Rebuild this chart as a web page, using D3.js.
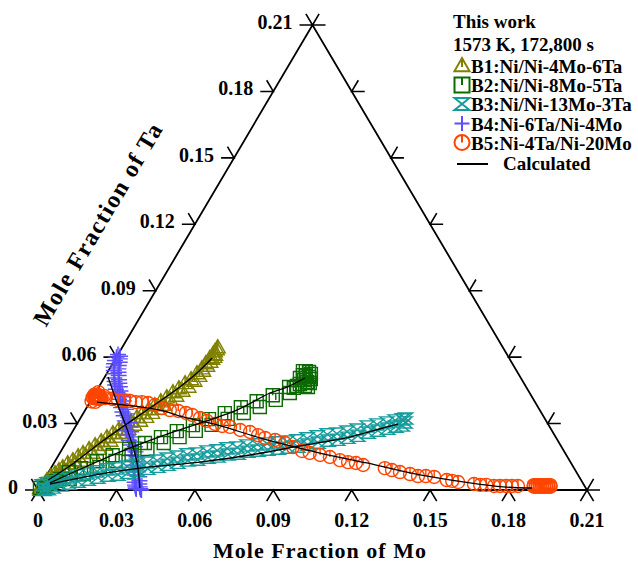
<!DOCTYPE html>
<html>
<head>
<meta charset="utf-8">
<script src="https://cdn.jsdelivr.net/npm/d3@7"></script>
<style>
body { margin: 0; background: #fff; }
text { font-family: "Liberation Serif", "Times New Roman", serif; font-weight: bold; fill: #000; }
</style>
</head>
<body>
<svg id="chart" width="638" height="562"></svg>
<script>
// tick values on each side of the triangle
const tickVals = [0, 0.03, 0.06, 0.09, 0.12, 0.15, 0.18, 0.21];
const tickLabels = ["0", "0.03", "0.06", "0.09", "0.12", "0.15", "0.18", "0.21"];

// B1 Ni/Ni-4Mo-6Ta  (mole fraction Mo, Ta)
const b1Mo = [0.0003, 0.0008, 0.0012, 0.0019, 0.0018, 0.0025, 0.0027, 0.0034, 0.0035, 0.0042, 0.0043, 0.0050, 0.0053, 0.0060, 0.0066, 0.0073, 0.0077, 0.0084, 0.0089, 0.0096, 0.0103, 0.0110, 0.0117, 0.0124, 0.0131, 0.0138, 0.0144, 0.0151, 0.0158, 0.0165, 0.0172, 0.0179, 0.0186, 0.0193, 0.0200, 0.0207, 0.0214, 0.0221, 0.0227, 0.0234, 0.0241, 0.0248, 0.0255, 0.0262, 0.0269, 0.0276, 0.0283, 0.0290, 0.0295, 0.0302, 0.0309, 0.0316, 0.0321, 0.0328, 0.0335, 0.0342, 0.0344, 0.0351, 0.0352, 0.0359, 0.0355, 0.0362, 0.0359, 0.0366, 0.0362, 0.0369, 0.0363, 0.0370, 0.0366, 0.0373, 0.0365, 0.0372];
const b1Ta = [0.0009, 0.0002, 0.0045, 0.0011, 0.0063, 0.0029, 0.0076, 0.0042, 0.0090, 0.0056, 0.0103, 0.0069, 0.0121, 0.0087, 0.0135, 0.0101, 0.0153, 0.0119, 0.0167, 0.0133, 0.0185, 0.0151, 0.0203, 0.0169, 0.0221, 0.0187, 0.0239, 0.0205, 0.0257, 0.0223, 0.0275, 0.0241, 0.0293, 0.0259, 0.0311, 0.0277, 0.0329, 0.0295, 0.0347, 0.0313, 0.0365, 0.0331, 0.0383, 0.0349, 0.0401, 0.0367, 0.0419, 0.0385, 0.0442, 0.0408, 0.0460, 0.0426, 0.0483, 0.0449, 0.0501, 0.0467, 0.0528, 0.0494, 0.0550, 0.0516, 0.0573, 0.0539, 0.0596, 0.0562, 0.0614, 0.0580, 0.0627, 0.0593, 0.0636, 0.0602, 0.0645, 0.0611];

// B2 Ni/Ni-8Mo-5Ta
const b2Mo = [0.0003, 0.0014, 0.0024, 0.0036, 0.0049, 0.0059, 0.0078, 0.0096, 0.0115, 0.0139, 0.0160, 0.0184, 0.0207, 0.0231, 0.0256, 0.0279, 0.0303, 0.0326, 0.0351, 0.0375, 0.0398, 0.0422, 0.0446, 0.0470, 0.0494, 0.0517, 0.0541, 0.0565, 0.0589, 0.0613, 0.0636, 0.0661, 0.0684, 0.0706, 0.0728, 0.0744, 0.0745, 0.0756, 0.0770, 0.0782, 0.0754, 0.0767, 0.0782, 0.0793, 0.0768, 0.0785, 0.0798, 0.0786, 0.0800, 0.0749, 0.0762, 0.0756, 0.0748];
const b2Ta = [0.0009, 0.0018, 0.0027, 0.0036, 0.0041, 0.0050, 0.0081, 0.0050, 0.0099, 0.0072, 0.0130, 0.0104, 0.0157, 0.0131, 0.0185, 0.0158, 0.0212, 0.0185, 0.0239, 0.0212, 0.0266, 0.0239, 0.0293, 0.0267, 0.0320, 0.0294, 0.0347, 0.0321, 0.0374, 0.0348, 0.0401, 0.0375, 0.0428, 0.0407, 0.0465, 0.0438, 0.0537, 0.0537, 0.0533, 0.0524, 0.0519, 0.0515, 0.0510, 0.0501, 0.0497, 0.0488, 0.0483, 0.0470, 0.0465, 0.0506, 0.0479, 0.0470, 0.0461];

// B3 Ni/Ni-13Mo-3Ta
const b3Mo = [0.0006, 0.0023, 0.0020, 0.0037, 0.0035, 0.0052, 0.0061, 0.0078, 0.0087, 0.0104, 0.0117, 0.0134, 0.0151, 0.0168, 0.0184, 0.0201, 0.0218, 0.0235, 0.0254, 0.0271, 0.0288, 0.0305, 0.0321, 0.0338, 0.0355, 0.0372, 0.0389, 0.0406, 0.0423, 0.0440, 0.0456, 0.0473, 0.0490, 0.0507, 0.0525, 0.0542, 0.0560, 0.0577, 0.0596, 0.0613, 0.0629, 0.0646, 0.0666, 0.0683, 0.0699, 0.0716, 0.0735, 0.0752, 0.0771, 0.0788, 0.0808, 0.0825, 0.0843, 0.0860, 0.0879, 0.0896, 0.0913, 0.0930, 0.0947, 0.0964, 0.0981, 0.0998, 0.1016, 0.1033, 0.1050, 0.1067, 0.1084, 0.1101, 0.1116, 0.1133, 0.1149, 0.1166, 0.1182, 0.1199, 0.1209, 0.1226, 0.1234, 0.1248, 0.1245, 0.1252];
const b3Ta = [0.0021, 0.0000, 0.0030, 0.0004, 0.0039, 0.0011, 0.0048, 0.0020, 0.0057, 0.0029, 0.0066, 0.0038, 0.0075, 0.0047, 0.0084, 0.0056, 0.0093, 0.0065, 0.0097, 0.0069, 0.0106, 0.0078, 0.0115, 0.0087, 0.0124, 0.0096, 0.0133, 0.0105, 0.0142, 0.0114, 0.0151, 0.0123, 0.0161, 0.0133, 0.0165, 0.0137, 0.0174, 0.0146, 0.0179, 0.0151, 0.0188, 0.0160, 0.0192, 0.0164, 0.0201, 0.0173, 0.0206, 0.0178, 0.0210, 0.0182, 0.0215, 0.0187, 0.0219, 0.0191, 0.0224, 0.0196, 0.0233, 0.0205, 0.0242, 0.0214, 0.0251, 0.0223, 0.0255, 0.0227, 0.0264, 0.0236, 0.0273, 0.0245, 0.0287, 0.0259, 0.0296, 0.0268, 0.0305, 0.0277, 0.0314, 0.0286, 0.0319, 0.0291, 0.0323, 0.0305];

// B4 Ni-6Ta/Ni-4Mo
const b4Mo = [0.0000, 0.0012, 0.0000, 0.0017, 0.0002, 0.0024, 0.0006, 0.0028, 0.0012, 0.0034, 0.0020, 0.0042, 0.0028, 0.0050, 0.0039, 0.0061, 0.0048, 0.0070, 0.0058, 0.0080, 0.0070, 0.0092, 0.0084, 0.0106, 0.0092, 0.0114, 0.0105, 0.0127, 0.0120, 0.0142, 0.0132, 0.0154, 0.0147, 0.0169, 0.0160, 0.0182, 0.0176, 0.0198, 0.0190, 0.0212, 0.0203, 0.0225, 0.0220, 0.0242, 0.0235, 0.0257, 0.0251, 0.0273, 0.0265, 0.0287, 0.0280, 0.0302, 0.0293, 0.0315, 0.0308, 0.0330, 0.0320, 0.0342, 0.0335, 0.0357, 0.0345, 0.0367, 0.0352, 0.0374, 0.0360, 0.0382, 0.0366, 0.0388, 0.0370, 0.0392, 0.0374, 0.0396];
const b4Ta = [0.0612, 0.0604, 0.0600, 0.0592, 0.0585, 0.0577, 0.0570, 0.0562, 0.0555, 0.0547, 0.0540, 0.0532, 0.0525, 0.0517, 0.0506, 0.0498, 0.0490, 0.0482, 0.0474, 0.0466, 0.0455, 0.0447, 0.0440, 0.0432, 0.0429, 0.0421, 0.0410, 0.0402, 0.0390, 0.0382, 0.0372, 0.0364, 0.0352, 0.0344, 0.0335, 0.0327, 0.0312, 0.0304, 0.0292, 0.0284, 0.0271, 0.0263, 0.0248, 0.0240, 0.0225, 0.0217, 0.0203, 0.0195, 0.0180, 0.0172, 0.0158, 0.0150, 0.0135, 0.0127, 0.0112, 0.0104, 0.0090, 0.0082, 0.0068, 0.0060, 0.0050, 0.0042, 0.0035, 0.0027, 0.0022, 0.0014, 0.0014, 0.0006, 0.0008, 0.0002, 0.0004, 0.0000];

// B5 Ni-4Ta/Ni-20Mo
const b5Mo = [0.0000, 0.0004, 0.0008, 0.0012, 0.0016, 0.0020, 0.0000, 0.0004, 0.0008, 0.0012, 0.0016, 0.0020, 0.0024, 0.0028, 0.0032, 0.0036, 0.0010, 0.0030, 0.0040, 0.0005, 0.0020, 0.0048, 0.0078, 0.0103, 0.0126, 0.0151, 0.0176, 0.0199, 0.0225, 0.0256, 0.0289, 0.0324, 0.0358, 0.0392, 0.0420, 0.0457, 0.0490, 0.0528, 0.0560, 0.0592, 0.0638, 0.0680, 0.0718, 0.0751, 0.0794, 0.0839, 0.0878, 0.0922, 0.0956, 0.1000, 0.1042, 0.1087, 0.1123, 0.1155, 0.1187, 0.1277, 0.1309, 0.1344, 0.1387, 0.1422, 0.1452, 0.1486, 0.1541, 0.1564, 0.1589, 0.1654, 0.1680, 0.1703, 0.1735, 0.1758, 0.1781, 0.1804, 0.1827, 0.1885, 0.1889, 0.1893, 0.1897, 0.1901, 0.1905, 0.1909, 0.1913, 0.1917, 0.1921, 0.1925, 0.1929, 0.1933, 0.1937, 0.1941, 0.1945, 0.1949, 0.1953];
const b5Ta = [0.0430, 0.0428, 0.0430, 0.0427, 0.0429, 0.0426, 0.0418, 0.0415, 0.0418, 0.0414, 0.0417, 0.0413, 0.0420, 0.0416, 0.0419, 0.0415, 0.0442, 0.0410, 0.0425, 0.0400, 0.0398, 0.0415, 0.0411, 0.0406, 0.0406, 0.0402, 0.0397, 0.0397, 0.0393, 0.0384, 0.0370, 0.0361, 0.0357, 0.0348, 0.0339, 0.0325, 0.0312, 0.0298, 0.0289, 0.0285, 0.0271, 0.0262, 0.0248, 0.0235, 0.0226, 0.0212, 0.0194, 0.0176, 0.0167, 0.0158, 0.0149, 0.0135, 0.0126, 0.0122, 0.0113, 0.0099, 0.0090, 0.0081, 0.0072, 0.0063, 0.0063, 0.0059, 0.0045, 0.0041, 0.0036, 0.0027, 0.0023, 0.0023, 0.0018, 0.0018, 0.0018, 0.0018, 0.0018, 0.0022, 0.0015, 0.0022, 0.0015, 0.0022, 0.0015, 0.0022, 0.0015, 0.0022, 0.0015, 0.0022, 0.0015, 0.0022, 0.0015, 0.0022, 0.0015, 0.0022, 0.0015];

// calculated diffusion paths
const c1Mo = [0.0016, 0.0075, 0.0131, 0.0185, 0.0243, 0.0310, 0.0344, 0.0368];
const c1Ta = [0.0045, 0.0120, 0.0212, 0.0290, 0.0370, 0.0465, 0.0528, 0.0596];
const c2Mo = [0.0030, 0.0130, 0.0257, 0.0376, 0.0580, 0.0668, 0.0720, 0.0768];
const c2Ta = [0.0032, 0.0105, 0.0190, 0.0257, 0.0361, 0.0438, 0.0465, 0.0506];
const c3Mo = [0.0032, 0.0201, 0.0376, 0.0557, 0.0732, 0.0903, 0.1073, 0.1180, 0.1228];
const c3Ta = [0.0027, 0.0072, 0.0104, 0.0126, 0.0158, 0.0199, 0.0239, 0.0280, 0.0298];
const c4Mo = [0.0013, 0.0106, 0.0232, 0.0318, 0.0385];
const c4Ta = [0.0510, 0.0393, 0.0239, 0.0122, 0.0009];
const c5Mo = [0.0027, 0.0286, 0.0390, 0.0538, 0.0763, 0.0995, 0.1197, 0.1427, 0.1636, 0.1772, 0.1885];
const c5Ta = [0.0397, 0.0361, 0.0330, 0.0294, 0.0226, 0.0167, 0.0122, 0.0068, 0.0032, 0.0014, 0.0009];

const legendLabels = ["B1:Ni/Ni-4Mo-6Ta", "B2:Ni/Ni-8Mo-5Ta", "B3:Ni/Ni-13Mo-3Ta", "B4:Ni-6Ta/Ni-4Mo", "B5:Ni-4Ta/Ni-20Mo"];

const series = [
    { mo: b1Mo, ta: b1Ta, color: "#808000", shape: "tri", size: 15 },
    { mo: b4Mo, ta: b4Ta, color: "#5c4dff", shape: "plus", size: 16 },
    { mo: b2Mo, ta: b2Ta, color: "#0b6a00", shape: "sq", size: 13 },
    { mo: b3Mo, ta: b3Ta, color: "#149c9c", shape: "hour", size: 14 },
    { mo: b5Mo, ta: b5Ta, color: "#ff4500", shape: "circ", size: 13 }
];
const calcLines = [[c1Mo, c1Ta], [c2Mo, c2Ta], [c3Mo, c3Ta], [c4Mo, c4Ta], [c5Mo, c5Ta]];

const svg = d3.select("#chart");

// ternary projection: x from Mo + Ta/2, y from Ta
const xs = d3.scaleLinear().domain([0, 0.21]).range([38, 587]);
const ys = d3.scaleLinear().domain([0, 0.21]).range([490, 25]);
const px = (mo, ta) => xs(mo + ta / 2);
const py = (mo, ta) => ys(ta);

const A = [px(0, 0), py(0, 0)], B = [px(0.21, 0), py(0.21, 0)], C = [px(0, 0.21), py(0, 0.21)];
function unit(p, q) {
    let dx = q[0] - p[0], dy = q[1] - p[1], l = Math.hypot(dx, dy);
    return [dx / l, dy / l];
}
const leftDir = unit(A, C);   // up-right along left edge
const rightDir = unit(B, C);  // up-left along right edge
const L = 13;

// frame
svg.append("path")
    .attr("d", `M${A}L${B}L${C}Z`)
    .attr("fill", "none").attr("stroke", "#000").attr("stroke-width", 1.8);

// ticks
let tickG = svg.append("g").attr("stroke", "#000").attr("stroke-width", 1.6).attr("fill", "none");
tickVals.forEach(t => {
    // bottom (Mo)
    let bx = px(t, 0), by = py(t, 0);
    tickG.append("path").attr("d", `M${bx - leftDir[0] * L},${by - leftDir[1] * L}L${bx},${by}L${bx - rightDir[0] * L},${by - rightDir[1] * L}`);
    // left (Ta)
    let lx = px(0, t), ly = py(0, t);
    tickG.append("path").attr("d", `M${lx - L},${ly}L${lx},${ly}L${lx + rightDir[0] * L},${ly + rightDir[1] * L}`);
    // right
    let rx = px(0.21 - t, t), ry = py(0.21 - t, t);
    tickG.append("path").attr("d", `M${rx + L},${ry}L${rx},${ry}L${rx + leftDir[0] * L},${ry + leftDir[1] * L}`);
});

svg.selectAll(".bLab").data(tickVals).enter().append("text")
    .attr("x", d => px(d, 0)).attr("y", 527)
    .attr("text-anchor", "middle").style("font-size", "20px")
    .text((d, i) => tickLabels[i]);
svg.selectAll(".lLab").data(tickVals).enter().append("text")
    .attr("x", d => px(0, d) - 20).attr("y", d => py(0, d) + 4)
    .attr("text-anchor", "end").style("font-size", "20px")
    .text((d, i) => tickLabels[i]);

// axis titles
svg.append("text").attr("x", 320).attr("y", 558).attr("text-anchor", "middle")
    .style("font-size", "22px").style("letter-spacing", "1px")
    .text("Mole Fraction of Mo");
let ang = Math.atan2(leftDir[1], leftDir[0]) * 180 / Math.PI;
svg.append("text").attr("text-anchor", "middle")
    .attr("transform", `translate(105,228) rotate(${ang})`)
    .style("font-size", "24px").style("letter-spacing", "1.5px")
    .text("Mole Fraction of Ta");

function markerPath(shape, s) {
    let h = s / 2;
    if (shape == "tri") return `M0,${-h}L${h},${h * 0.75}L${-h},${h * 0.75}ZM0,${-h}L0,${h * 0.2}`;
    if (shape == "sq") return `M${-h},${-h}H${h}V${h}H${-h}ZM0,${-h}V0`;
    if (shape == "hour") return `M${-h},${-h * 0.8}H${h}L${-h},${h * 0.8}H${h}Z`;
    if (shape == "plus") return `M${-h},0H${h}M0,${-h}V${h}`;
    return `M${h},0A${h},${h} 0 1,1 ${-h},0A${h},${h} 0 1,1 ${h},0ZM0,${-h}V0`;
}

// data markers
series.forEach(s => {
    svg.append("g").selectAll("path").data(s.mo).enter().append("path")
        .attr("transform", (d, i) => `translate(${px(d, s.ta[i])},${py(d, s.ta[i])})`)
        .attr("d", markerPath(s.shape, s.size))
        .attr("fill", "none").attr("stroke", s.color).attr("stroke-width", 1.4);
});

// calculated lines
let line = d3.line().x(d => px(d[0], d[1])).y(d => py(d[0], d[1])).curve(d3.curveCatmullRom);
calcLines.forEach(c => {
    let pts = c[0].map((m, i) => [m, c[1][i]]);
    svg.append("path").attr("d", line(pts))
        .attr("fill", "none").attr("stroke", "#000").attr("stroke-width", 1.3);
});

// legend
svg.append("text").attr("x", 453).attr("y", 28).style("font-size", "19px").text("This work");
svg.append("text").attr("x", 453).attr("y", 51).style("font-size", "19px").text("1573 K, 172,800 s");
const legY = [72.5, 92, 111, 130.5, 149.5];
const legOrder = [0, 2, 3, 1, 4];
legendLabels.forEach((lab, i) => {
    let s = series[legOrder[i]];
    svg.append("path").attr("transform", `translate(462,${legY[i] - 7})`)
        .attr("d", markerPath(s.shape, 15))
        .attr("fill", "none").attr("stroke", s.color).attr("stroke-width", 2);
    svg.append("text").attr("x", 471).attr("y", legY[i]).style("font-size", "19px").text(lab);
});
svg.append("line").attr("x1", 457).attr("x2", 488).attr("y1", 164).attr("y2", 164)
    .attr("stroke", "#000").attr("stroke-width", 2);
svg.append("text").attr("x", 503).attr("y", 170).style("font-size", "19px").text("Calculated");
</script>
</body>
</html>
